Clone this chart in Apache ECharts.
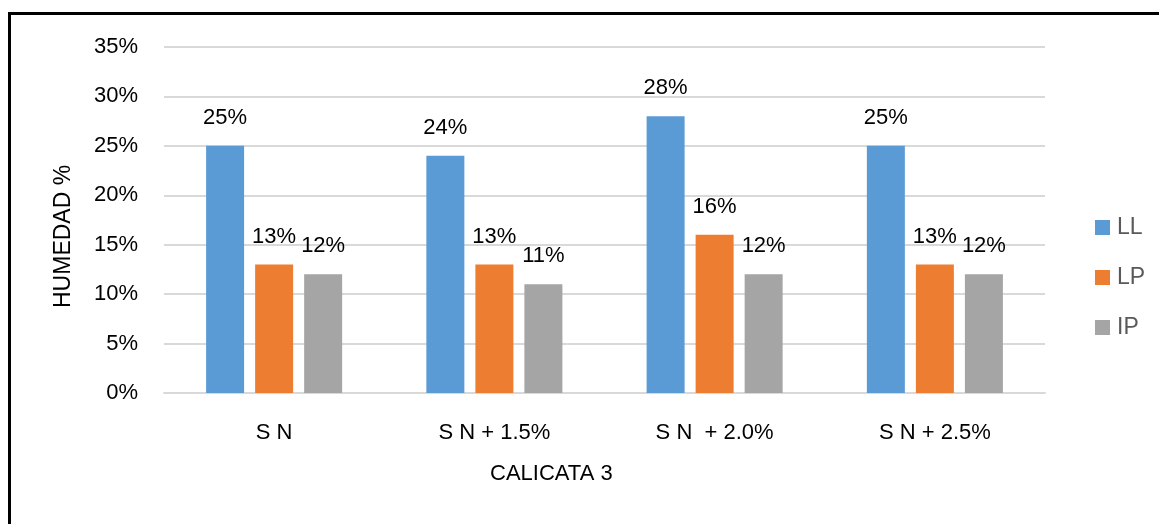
<!DOCTYPE html>
<html>
<head>
<meta charset="utf-8">
<script src="https://cdn.jsdelivr.net/npm/echarts@6/dist/echarts.min.js"></script>
<style>
  html, body { margin: 0; padding: 0; background: #fff; }
  #frame { position: absolute; left: 8px; top: 12px; width: 1151px; height: 512px;
           border-top: 3px solid #000; border-left: 3px solid #000; box-sizing: border-box; }
  #chart { position: absolute; left: 0; top: 0; width: 1159px; height: 524px; }
</style>
</head>
<body>
<div id="frame"></div>
<div id="chart"></div>
<script>
const categories = ['S N', 'S N + 1.5%', 'S N  + 2.0%', 'S N + 2.5%'];
const llValues = [25, 24, 28, 25];
const lpValues = [13, 13, 16, 13];
const ipValues = [12, 11, 12, 12];

const font = '"Liberation Sans", Arial, sans-serif';

const chart = echarts.init(document.getElementById('chart'));

function barSeries(name, data, color) {
    return {
        name: name,
        type: 'bar',
        data: data,
        barWidth: 38,
        barGap: '29%',
        itemStyle: { color: color },
        label: {
            show: true,
            position: 'top',
            distance: 17,
            formatter: (p) => p.value + '%',
            color: '#000',
            fontSize: 22,
            fontFamily: font
        }
    };
}

const option = {
    animation: false,
    backgroundColor: 'transparent',
    grid: { left: 164, right: 114, top: 47, bottom: 131 },
    legend: {
        orient: 'vertical',
        left: 1090,
        top: 211,
        itemWidth: 15,
        itemHeight: 15,
        itemGap: 27,
        icon: 'rect',
        textStyle: { color: '#595959', fontSize: 23, fontFamily: font, padding: [0, 0, 0, 2] },
        data: ['LL', 'LP', 'IP']
    },
    xAxis: {
        type: 'category',
        data: categories,
        axisLine: { lineStyle: { color: '#d9d9d9', width: 2 } },
        axisTick: { show: false },
        axisLabel: { color: '#000', fontSize: 22, fontFamily: font, margin: 29 }
    },
    yAxis: {
        type: 'value',
        min: 0,
        max: 35,
        interval: 5,
        axisLine: { show: false },
        axisTick: { show: false },
        splitLine: { lineStyle: { color: '#d9d9d9', width: 2 } },
        axisLabel: { color: '#000', fontSize: 22, fontFamily: font, margin: 26, formatter: '{value}%' }
    },
    graphic: [
        {
            type: 'text',
            left: 490,
            top: 463,
            style: { text: 'CALICATA 3', fill: '#000', font: '22px ' + font }
        },
        {
            type: 'text',
            x: 52,
            y: 308,
            rotation: Math.PI / 2,
            style: { text: 'HUMEDAD %', fill: '#000', font: '23px ' + font }
        }
    ],
    series: [
        barSeries('LL', llValues, '#5b9bd5'),
        barSeries('LP', lpValues, '#ed7d31'),
        barSeries('IP', ipValues, '#a5a5a5')
    ]
};

chart.setOption(option);
</script>
</body>
</html>
